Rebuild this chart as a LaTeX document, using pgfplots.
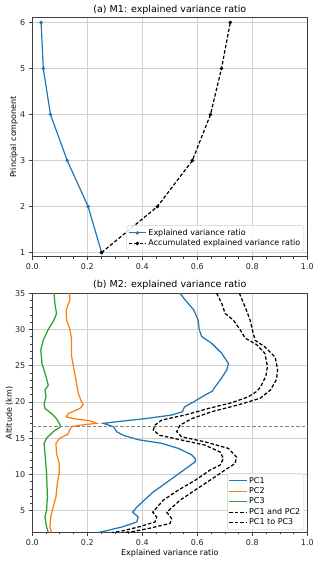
\documentclass[border=0pt]{standalone}
\usepackage{pgfplots}
\pgfplotsset{compat=1.18}
\usepackage{fontspec}
\setmainfont{DejaVu Sans}
\definecolor{c1}{HTML}{1F77B4}
\definecolor{c2}{HTML}{FF7F0E}
\definecolor{c3}{HTML}{2CA02C}
\definecolor{frame}{HTML}{404040}
\definecolor{gridc}{HTML}{D0D0D0}
\pgfplotsset{
  every axis title shift=0pt,
  base/.style={
    scale only axis, width=275pt, height=239.3pt,
    xmin=0, xmax=1,
    xtick={0,0.2,0.4,0.6,0.8,1.0},
    xticklabels={0.0,0.2,0.4,0.6,0.8,1.0},
    minor x tick num=3,
    /pgf/number format/assume math mode=true,
    tick label style={font=\fontsize{8}{9}\selectfont, text=black!85},
    label style={font=\fontsize{8}{9}\selectfont},
    title style={font=\fontsize{9.5}{11}\selectfont},
    axis line style={frame, line width=0.8pt},
    tick style={frame, line width=0.6pt},
    major tick length=3.5pt, minor tick length=2pt,
    tick align=outside, xtick pos=bottom, ytick pos=left,
    grid=major, major grid style={gridc, line width=0.7pt},
    legend cell align=left,
    legend style={font=\fontsize{8}{10}\selectfont, draw=gray!40, rounded corners=2pt, fill=white, fill opacity=0.85, text opacity=1, inner sep=1.5pt, row sep=-1pt},
  }
}
\begin{document}
\begin{tikzpicture}
\path[use as bounding box] (0,0) rectangle (320pt,563pt);
\begin{axis}[base, at={(32.3pt,306.3pt)}, anchor=south west,
  ymin=0.91, ymax=6.11, ytick={1,2,3,4,5,6},
  title={(a) M1: explained variance ratio},
  title style={at={(axis description cs:0.5,1.03)}, anchor=center, yshift=0pt},
  ylabel={Principal component},
  ylabel style={at={(axis description cs:-0.067,0.5)}, anchor=center},
  legend style={at={(0.988,0.024)}, anchor=south east},
]
\addplot[c1, line width=1.2pt, mark=*, mark size=1.1pt] coordinates {
(0.252,1) (0.203,2) (0.127,3) (0.066,4) (0.040,5) (0.032,6)};
\addlegendentry{Explained variance ratio}
\addplot[black, line width=1.2pt, dash pattern=on 3.5pt off 2pt, mark=*, mark size=1.1pt, mark options={solid}] coordinates {
(0.252,1) (0.455,2) (0.582,3) (0.648,4) (0.688,5) (0.720,6)};
\addlegendentry{Accumulated explained variance ratio}
\end{axis}

\begin{axis}[base, at={(32.3pt,30.5pt)}, anchor=south west,
  ymin=2, ymax=35, ytick={5,10,15,20,25,30,35}, minor y tick num=4,
  title={(b) M2: explained variance ratio},
  title style={at={(axis description cs:0.5,1.035)}, anchor=center, yshift=0pt},
  xlabel={Explained variance ratio},
  xlabel style={at={(axis description cs:0.5,-0.086)}, anchor=center},
  ylabel={Altitude (km)},
  ylabel style={at={(axis description cs:-0.083,0.5)}, anchor=center},
  legend style={at={(0.988,0.01)}, anchor=south east},
]
\addplot[c1, line width=1.25pt] coordinates {
(0.537,35) (0.555,34.1) (0.587,32.7) (0.603,31.3) (0.607,30) (0.616,29.0) (0.652,28.1) (0.689,26.7) (0.713,25.3) (0.707,24.4) (0.683,23.0) (0.661,21.9) (0.655,21.5) (0.628,20.95) (0.586,20.0) (0.553,19.3) (0.546,18.65) (0.507,18.2) (0.41,17.7) (0.313,17.3) (0.258,17.05) (0.295,16.6) (0.307,15.9) (0.331,15.4) (0.385,14.8) (0.47,14.3) (0.531,13.6) (0.58,12.7) (0.594,12.1) (0.592,11.75) (0.567,11.05) (0.525,9.9) (0.483,8.75) (0.44,7.6) (0.407,6.45) (0.38,5.5) (0.365,4.8) (0.385,4.15) (0.38,3.45) (0.325,2.75) (0.264,2.2) (0.24,2.0)};
\addlegendentry{PC1}
\addplot[c2, line width=1.25pt] coordinates {
(0.135,35) (0.137,34.1) (0.123,32.7) (0.125,31.3) (0.137,30) (0.143,28.55) (0.143,26.3) (0.152,24.4) (0.161,22.55) (0.167,21.2) (0.176,20.3) (0.185,19.6) (0.173,19.1) (0.131,18.4) (0.123,17.95) (0.149,17.7) (0.21,17.4) (0.234,17.05) (0.173,16.8) (0.143,16.6) (0.135,16.1) (0.131,15.6) (0.1,15.0) (0.086,14.3) (0.088,12.9) (0.098,11.5) (0.098,10.35) (0.091,8.75) (0.086,6.9) (0.076,5.5) (0.067,4.15) (0.064,2.75) (0.07,2.0)};
\addlegendentry{PC2}
\addplot[c3, line width=1.25pt] coordinates {
(0.079,35) (0.082,33.6) (0.088,32.2) (0.079,31.3) (0.058,30) (0.04,28.55) (0.031,27.2) (0.035,25.3) (0.05,23.5) (0.058,22.3) (0.046,21.65) (0.05,20.7) (0.043,19.8) (0.046,19.1) (0.07,18.4) (0.088,17.7) (0.098,17.05) (0.103,16.6) (0.076,15.9) (0.052,15) (0.043,14.3) (0.046,12.9) (0.052,10.1) (0.055,6.9) (0.052,5.1) (0.046,4.15) (0.052,2.75) (0.058,2.0)};
\addlegendentry{PC3}
\addplot[black, line width=1.25pt, dash pattern=on 3.5pt off 2pt] coordinates {
(0.670,35) (0.689,33.6) (0.701,32.2) (0.731,31.3) (0.755,30) (0.774,28.8) (0.816,27.9) (0.846,26.7) (0.855,24.9) (0.849,23.5) (0.83,22.1) (0.818,21.5) (0.785,20.7) (0.725,19.9) (0.64,19.1) (0.555,18.2) (0.47,17.5) (0.446,16.8) (0.44,16.1) (0.464,15.4) (0.543,14.75) (0.628,14.05) (0.683,13.1) (0.695,12.2) (0.683,11.3) (0.646,10.6) (0.592,9.2) (0.531,7.85) (0.476,6.45) (0.438,4.8) (0.452,4.15) (0.446,3.45) (0.385,2.75) (0.325,2.2) (0.29,2.0)};
\addlegendentry{PC1 and PC2}
\addplot[black, line width=1.25pt, dash pattern=on 3.5pt off 2pt] coordinates {
(0.753,35) (0.774,33.1) (0.792,31.3) (0.80,30) (0.81,28.5) (0.846,27.6) (0.883,26.2) (0.892,24.5) (0.888,23.1) (0.866,21.65) (0.828,20.5) (0.749,19.6) (0.652,18.65) (0.58,17.7) (0.537,16.8) (0.525,15.9) (0.543,15.2) (0.628,14.5) (0.713,13.6) (0.743,12.4) (0.737,11.5) (0.70,10.6) (0.646,9.2) (0.592,7.85) (0.537,6.45) (0.489,4.8) (0.507,3.9) (0.501,3.25) (0.422,2.55) (0.361,2.1) (0.33,2.0)};
\addlegendentry{PC1 to PC3}
\addplot[gray, line width=1pt, dash pattern=on 3.5pt off 2pt, forget plot] coordinates {(0,16.6) (1,16.6)};
\end{axis}
\end{tikzpicture}
\end{document}
